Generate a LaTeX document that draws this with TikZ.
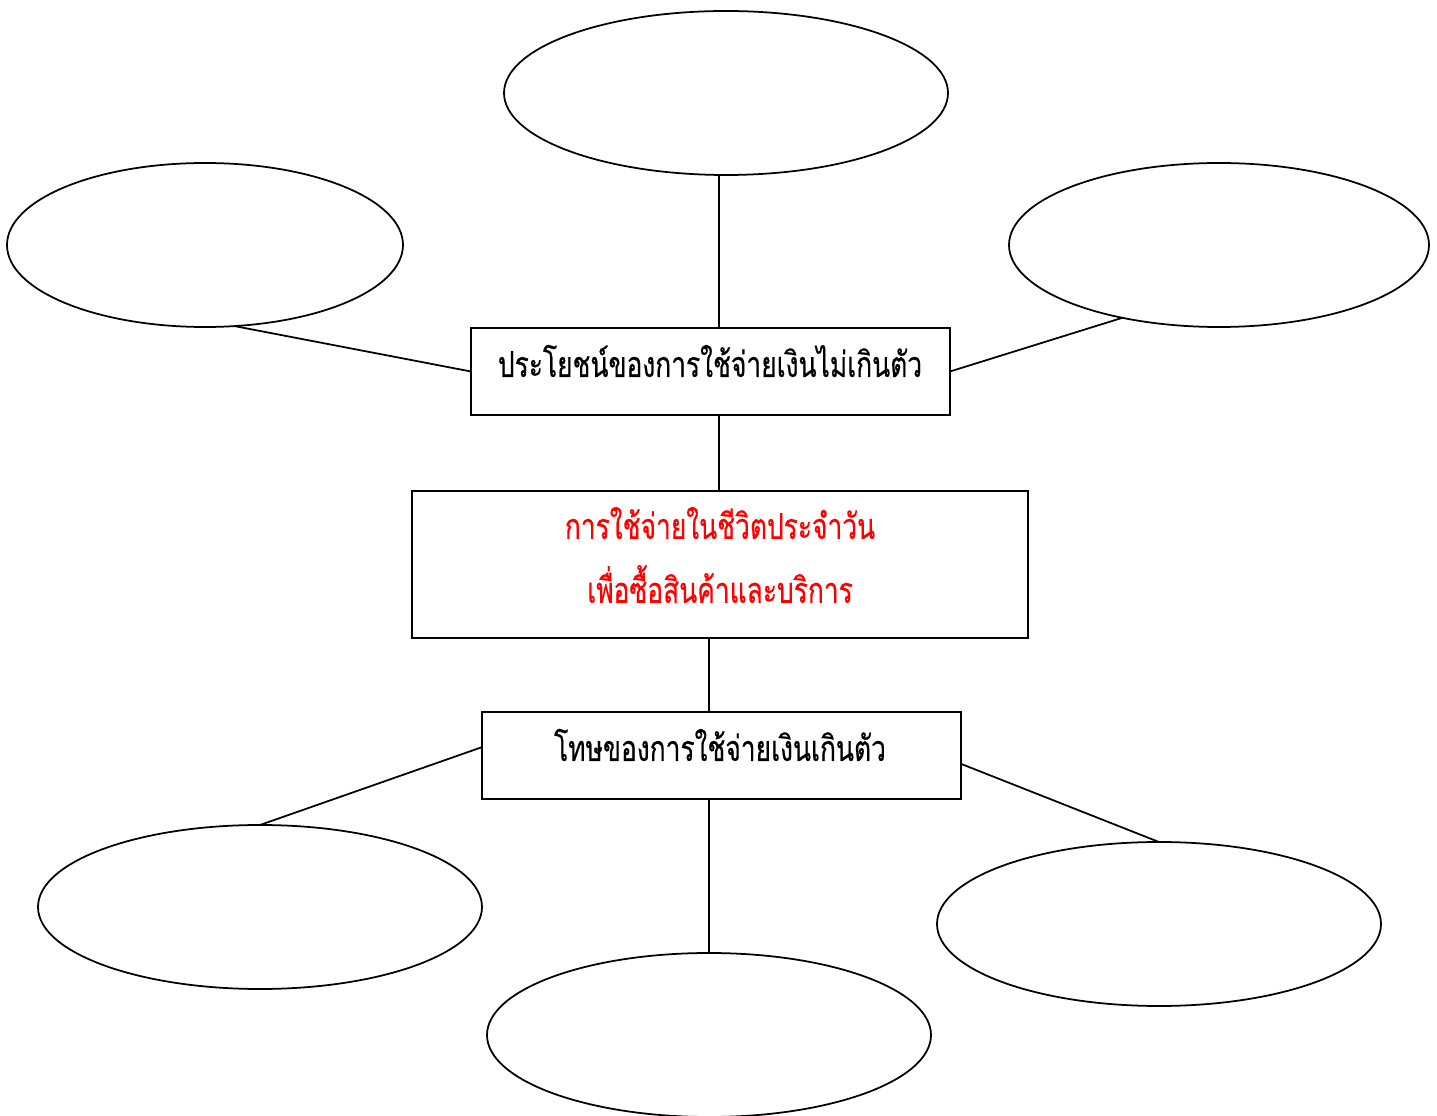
\documentclass[tikz,border=0pt]{standalone}
\usepackage{fontspec}
\newfontfamily\thaifont[Script=Thai,FakeBold=0.6]{Loma}
\usetikzlibrary{shapes.geometric}
\newcommand\tall[1]{\scalebox{1}[1.35]{#1}}
\begin{document}
\begin{tikzpicture}[
	bubble/.style={ellipse,draw,line width=1pt,inner sep=0pt,outer sep=0pt,minimum height=3.28cm},
	topic/.style={rectangle,draw,line width=1pt,inner sep=0pt,outer sep=0pt},
	txt/.style={font=\thaifont\fontsize{15}{18}\selectfont,inner sep=0pt},
	link/.style={line width=1pt}]
	\useasboundingbox (0,0) rectangle (28.74,22.3) ;
	% ellipses
	\node[bubble,minimum width=8.88cm] (e1) at (14.52,20.44) {} ;
	\node[bubble,minimum width=7.92cm] (e2) at (4.10,17.40) {} ;
	\node[bubble,minimum width=8.40cm] (e3) at (24.38,17.40) {} ;
	\node[bubble,minimum width=8.88cm] (e4) at (5.20,4.16) {} ;
	\node[bubble,minimum width=8.88cm] (e5) at (14.18,1.60) {} ;
	\node[bubble,minimum width=8.88cm] (e6) at (23.18,3.82) {} ;
	% boxes
	\node[topic,minimum width=9.58cm,minimum height=1.74cm] (b1) at (14.21,14.87) {} ;
	\node[topic,minimum width=12.32cm,minimum height=2.94cm] (b2) at (14.40,11.01) {} ;
	\node[topic,minimum width=9.58cm,minimum height=1.74cm] (b3) at (14.43,7.19) {} ;
	% texts
	\node[txt] (t1) at (14.20,15.08) {\tall{ประโยชน์ของการใช้จ่ายเงินไม่เกินตัว}} ;
	\node[txt,text=red] (t2) at (14.40,11.84) {\tall{การใช้จ่ายในชีวิตประจำวัน}} ;
	\node[txt,text=red] (t3) at (14.40,10.62) {\tall{เพื่อซื้อสินค้าและบริการ}} ;
	\node[txt] (t4) at (14.40,7.40) {\tall{โทษของการใช้จ่ายเงินเกินตัว}} ;
	% links
	\draw[link] (e1.south) ++(-0.14,0) coordinate (c1) -- (c1 |- b1.north) ;
	\draw[link] (e2.-70) -- (b1.west) ;
	\draw[link] (e3.217) -- (b1.east) ;
	\draw[link] (c1 |- b1.south) -- (c1 |- b2.north) ;
	\draw[link] (e5.north |- b2.south) -- (e5.north |- b3.north) ;
	\draw[link] (b3.178) -- (e4.north) ;
	\draw[link] (b3.-2) -- (e6.north) ;
	\draw[link] (e5.north |- b3.south) -- (e5.north) ;
\end{tikzpicture}
\end{document}
